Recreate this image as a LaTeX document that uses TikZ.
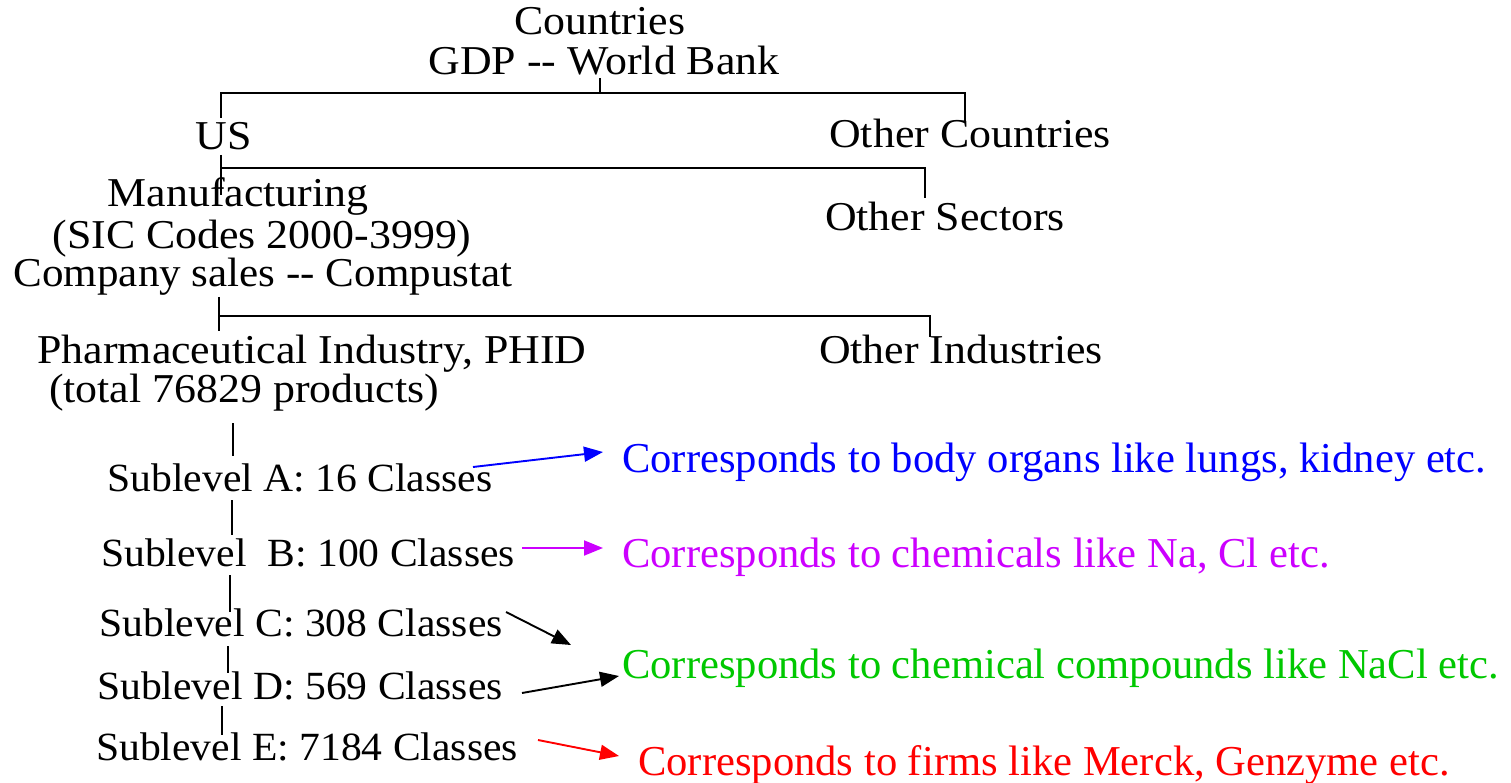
\documentclass[tikz,border=0pt]{standalone}
\usepackage{fontspec}
\usepackage{graphicx}
\setmainfont{LiberationSerif}[Extension=.ttf,UprightFont=*-Regular]
\usetikzlibrary{arrows.meta}
\definecolor{cblue}{RGB}{0,0,255}
\definecolor{cmag}{RGB}{204,0,255}
\definecolor{cgreen}{RGB}{0,200,0}
\definecolor{cred}{RGB}{255,0,0}
\newcommand{\wide}[1]{\scalebox{1.07}[1]{#1}}
\tikzset{
  upper/.style={inner sep=0pt, anchor=base, font=\fontsize{41}{41}\selectfont},
  sub/.style={inner sep=0pt, anchor=base, font=\fontsize{40}{40}\selectfont},
  note/.style={inner sep=0pt, anchor=base west, font=\fontsize{42.6}{42.6}\selectfont},
  tree/.style={line width=1.6pt, black},
  arr/.style={line width=1.9pt, -{Triangle[length=19pt,width=15pt]}}
}
\begin{document}
\begin{tikzpicture}[x=1pt,y=-1pt]
\useasboundingbox (0,0) rectangle (1511,783);
\fill[white] (0,0) rectangle (1511,783);
% upper tree texts
\node[upper] (cty) at (600,35) {\wide{Countries}};
\node[upper] (gdp) at (604,75) {\wide{GDP -{}- World Bank}};
\node[upper] (us) at (224,150) {\wide{US}};
\node[upper] (oc) at (970,148) {\wide{Other Countries}};
\node[upper] (man) at (238,207) {\wide{Manufacturing}};
\node[upper] (sic) at (262,249) {\wide{(SIC Codes 2000-3999)}};
\node[upper] (cs) at (263,287) {\scalebox{1.05}[1]{Company sales -{}- Compustat}};
\node[upper] (os) at (945,231) {\wide{Other Sectors}};
\node[upper] (ph) at (312,363) {\wide{Pharmaceutical Industry, PHID}};
\node[upper] (tot) at (244,402) {\wide{(total 76829 products)}};
\node[upper] (oi) at (961,363) {\wide{Other Industries}};
% sublevels
\node[sub] (sa) at (300,491) {\scalebox{1.04}[1]{Sublevel A: 16 Classes}};
\node[sub] (sb) at (308,566) {\scalebox{1.04}[1]{Sublevel\ \ B: 100 Classes}};
\node[sub] (sc) at (301,636) {\scalebox{1.04}[1]{Sublevel C: 308 Classes}};
\node[sub] (sd) at (300,699) {\scalebox{1.04}[1]{Sublevel D: 569 Classes}};
\node[sub] (se) at (307,760) {\scalebox{1.04}[1]{Sublevel E: 7184 Classes}};
% notes
\node[note, text=cblue] (na) at (622,472) {Corresponds to body organs like lungs, kidney etc.};
\node[note, text=cmag] (nb) at (622,567) {Corresponds to chemicals like Na, Cl etc.};
\node[note, text=cgreen] (nc) at (622,678) {Corresponds to chemical compounds like NaCl etc.};
\node[note, text=cred] (nd) at (638,775) {Corresponds to firms like Merck, Genzyme etc.};
% tree coordinates
\coordinate (g0) at (600,78);
\coordinate (g1) at (600,93);
\coordinate (gl) at (221,93);
\coordinate (gr) at (965,93);
\coordinate (usb) at (221,118);
\coordinate (ocb) at (965,122);
\coordinate (u0) at (221,155);
\coordinate (u1) at (221,168);
\coordinate (u2) at (221,195);
\coordinate (ur) at (925,168);
\coordinate (osb) at (925,198);
\coordinate (m0) at (219,297);
\coordinate (m1) at (219,316);
\coordinate (m2) at (219,331);
\coordinate (mr) at (930,316);
\coordinate (oib) at (930,337);
\coordinate (p0) at (233,423);
\coordinate (p1) at (233,456);
\coordinate (a0) at (232,500);
\coordinate (a1) at (232,535);
\coordinate (b0) at (230,575);
\coordinate (b1) at (230,612);
\coordinate (c0) at (228,646);
\coordinate (c1) at (228,673);
\coordinate (d0) at (222,706);
\coordinate (d1) at (222,735);
\draw[tree] (g0) -- (g1);
\draw[tree] (usb) -- (gl) -- (gr) -- (ocb);
\draw[tree] (u0) -- (u2);
\draw[tree] (u1) -- (ur) -- (osb);
\draw[tree] (m0) -- (m2);
\draw[tree] (m1) -- (mr) -- (oib);
\draw[tree] (p0) -- (p1);
\draw[tree] (a0) -- (a1);
\draw[tree] (b0) -- (b1);
\draw[tree] (c0) -- (c1);
\draw[tree] (d0) -- (d1);
% arrows
\coordinate (ta) at (473,467); \coordinate (ha) at (603,452);
\coordinate (tb) at (522,548); \coordinate (hb) at (603,548);
\coordinate (tc) at (506,612); \coordinate (hc) at (571,645);
\coordinate (td) at (522,693); \coordinate (hd) at (619,676);
\coordinate (te) at (538,740); \coordinate (he) at (619,756);
\draw[arr, cblue] (ta) -- (ha);
\draw[arr, cmag] (tb) -- (hb);
\draw[arr, black] (tc) -- (hc);
\draw[arr, black] (td) -- (hd);
\draw[arr, cred] (te) -- (he);
\end{tikzpicture}
\end{document}
